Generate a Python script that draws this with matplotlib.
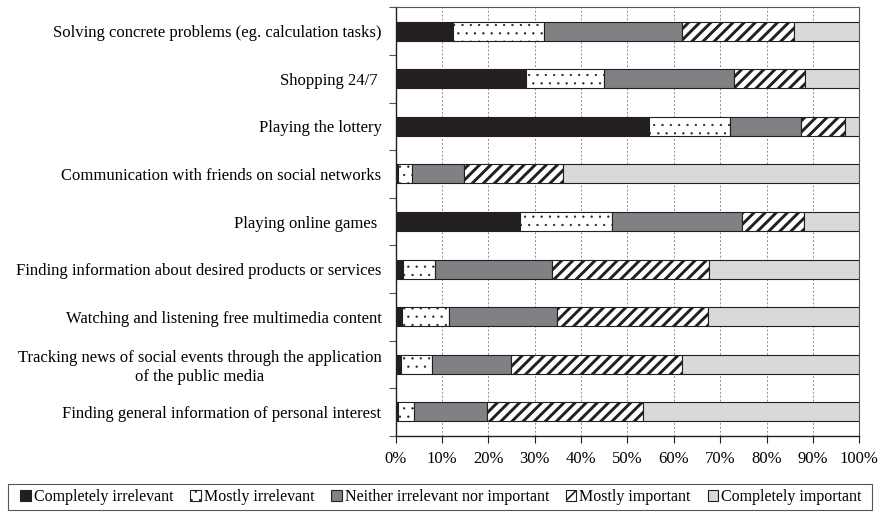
import numpy as np
import matplotlib
matplotlib.use("Agg")
import matplotlib.pyplot as plt
import matplotlib.patches as patches

# --- data (shares in %) ---
categories = [
    "Solving concrete problems (eg. calculation tasks)",
    "Shopping 24/7 ",
    "Playing the lottery",
    "Communication with friends on social networks",
    "Playing online games ",
    "Finding information about desired products or services",
    "Watching and listening free multimedia content",
    "Tracking news of social events through the application\nof the public media",
    "Finding general information of personal interest",
]
series_names = [
    "Completely irrelevant",
    "Mostly irrelevant",
    "Neither irrelevant nor important",
    "Mostly important",
    "Completely important",
]
completely_irrelevant = [12.4, 28.1, 54.6, 0.6, 26.9, 1.7, 1.5, 1.1, 0.5]
mostly_irrelevant = [19.6, 16.9, 17.6, 3.0, 19.8, 6.9, 10.1, 6.8, 3.5]
neither = [29.8, 28.0, 15.3, 11.2, 28.0, 25.1, 23.2, 17.1, 15.8]
mostly_important = [24.1, 15.4, 9.5, 21.3, 13.3, 33.9, 32.6, 36.8, 33.5]
completely_important = [14.1, 11.6, 3.0, 63.9, 12.0, 32.4, 32.6, 38.2, 46.7]
x_ticks = [0, 10, 20, 30, 40, 50, 60, 70, 80, 90, 100]
x_ticklabels = ["0%", "10%", "20%", "30%", "40%", "50%", "60%", "70%", "80%", "90%", "100%"]

plt.rcParams["font.family"] = ["Liberation Serif", "DejaVu Serif"]

# fill, hatch, hatch line width for each series
styles = [
    ("#231f20", None, 1.0),
    ("white", "..", 0.4),
    ("#808184", None, 1.0),
    ("white", "///", 2.1),
    ("#d8d9da", None, 1.0),
]
values = [completely_irrelevant, mostly_irrelevant, neither,
          mostly_important, completely_important]

fig = plt.figure(figsize=(8.8, 5.18), dpi=100)
ax = fig.add_axes([395.5 / 880, 1 - 435.7 / 518, 463.8 / 880, 428.4 / 518])

y = np.arange(len(categories))
left = np.zeros(len(categories))
handles = []
for name, vals, (fc, hatch, hlw) in zip(series_names, values, styles):
    vals = np.array(vals)
    bars = ax.barh(y, vals, left=left, height=0.4, facecolor=fc,
                   edgecolor="#231f20", linewidth=0.8, label=name, zorder=3)
    for p in bars:
        p.set_hatch(hatch)
        p.set_hatch_linewidth(hlw)
    handles.append(bars)
    left += vals

ax.set_xlim(0, 100)
ax.set_ylim(len(categories) - 0.5, -0.5)

ax.set_xticks(x_ticks)
ax.set_xticklabels(x_ticklabels, fontsize=12)
ax.tick_params(axis="x", length=5, width=0.8, color="#231f20", pad=6)

ax.set_yticks(y)
ax.set_yticklabels(categories, fontsize=12, multialignment="center")
ax.tick_params(axis="y", which="major", length=0, pad=10)
ax.set_yticks(np.arange(-0.5, len(categories)), minor=True)
ax.tick_params(axis="y", which="minor", length=5, width=0.8, color="#555555")

ax.grid(axis="x", color="#8c8c8c", linestyle=(0, (2, 2)), linewidth=0.7, zorder=0)
for side in ["left", "bottom"]:
    ax.spines[side].set_color("#231f20")
    ax.spines[side].set_linewidth(1.0)
for side in ["top", "right"]:
    ax.spines[side].set_color("#555555")
    ax.spines[side].set_linewidth(0.8)

# legend frame across the bottom
fig.patches.append(patches.Rectangle((8 / 880, 1 - 510 / 518), 864 / 880, 26 / 518,
                                     transform=fig.transFigure, fill=False,
                                     edgecolor="#555555", linewidth=0.8))
leg = fig.legend(handles=handles, loc="center", bbox_to_anchor=(441 / 880, 1 - 497 / 518),
                 ncol=5, frameon=False, fontsize=11.5, handlelength=0.65,
                 handleheight=0.65, handletextpad=0.2, columnspacing=1.05, borderpad=0)
for h, (fc, hatch, hlw) in zip(leg.legend_handles, styles):
    h.set_hatch(hatch)
    h.set_hatch_linewidth(min(hlw, 1.2))

fig.savefig("out.png", dpi=100)
